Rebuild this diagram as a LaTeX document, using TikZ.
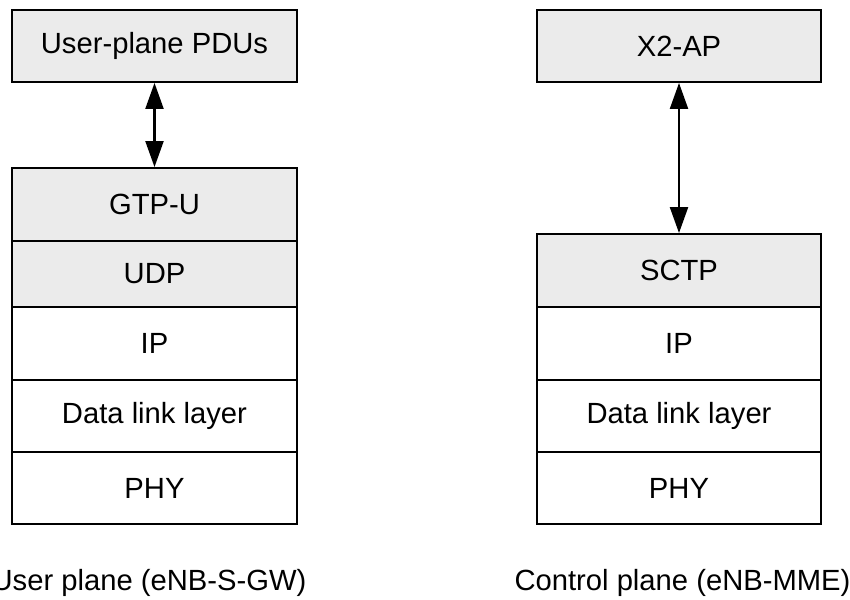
\documentclass[tikz,border=0pt]{standalone}
\usepackage{fontspec}
\setmainfont{Liberation Sans}
\usetikzlibrary{arrows.meta}

\begin{document}
\begin{tikzpicture}[x=1pt,y=-1pt]
\tikzstyle{every node} = [font=\fontsize{29.2}{34}\selectfont,inner sep=0pt]
\tikzstyle{layer} = [draw,line width=1.9pt,minimum width=285pt,minimum height=72pt]
\tikzstyle{grey layer} = [layer,fill=black!8]
\useasboundingbox (0,0) rectangle (850,599);
\path (154.5,46) node [grey layer] (pdus) {User-plane PDUs}
		(154.5,204.5) node [grey layer,minimum height=73pt] (gtpu) {GTP-U}
		(154.5,274) node [grey layer,minimum height=66pt] (udp) {UDP}
		(154.5,343.5) node [layer,minimum height=73pt] (ip-u) {IP}
		(154.5,416) node [layer] (dll-u) {Data link layer}
		(154.5,488) node [layer] (phy-u) {PHY}
		(149,583) node (userplane) {User plane (eNB-S-GW)}
		(679,46) node [grey layer,minimum width=284pt] (x2ap) {X2-AP}
		(679,270.5) node [grey layer,minimum width=284pt,minimum height=73pt] (sctp) {SCTP}
		(679,343.5) node [layer,minimum width=284pt,minimum height=73pt] (ip-c) {IP}
		(679,416) node [layer,minimum width=284pt] (dll-c) {Data link layer}
		(679,488) node [layer,minimum width=284pt] (phy-c) {PHY}
		(682.5,583) node (controlplane) {Control plane (eNB-MME)}	;

	\draw[line width=2.2pt,{Triangle[width=18pt,length=26pt]}-{Triangle[width=18pt,length=26pt]}] (pdus) -- (gtpu);
	\draw[line width=2.2pt,{Triangle[width=18pt,length=26pt]}-{Triangle[width=18pt,length=26pt]}] (x2ap) -- (sctp);
\end{tikzpicture}
\end{document}
